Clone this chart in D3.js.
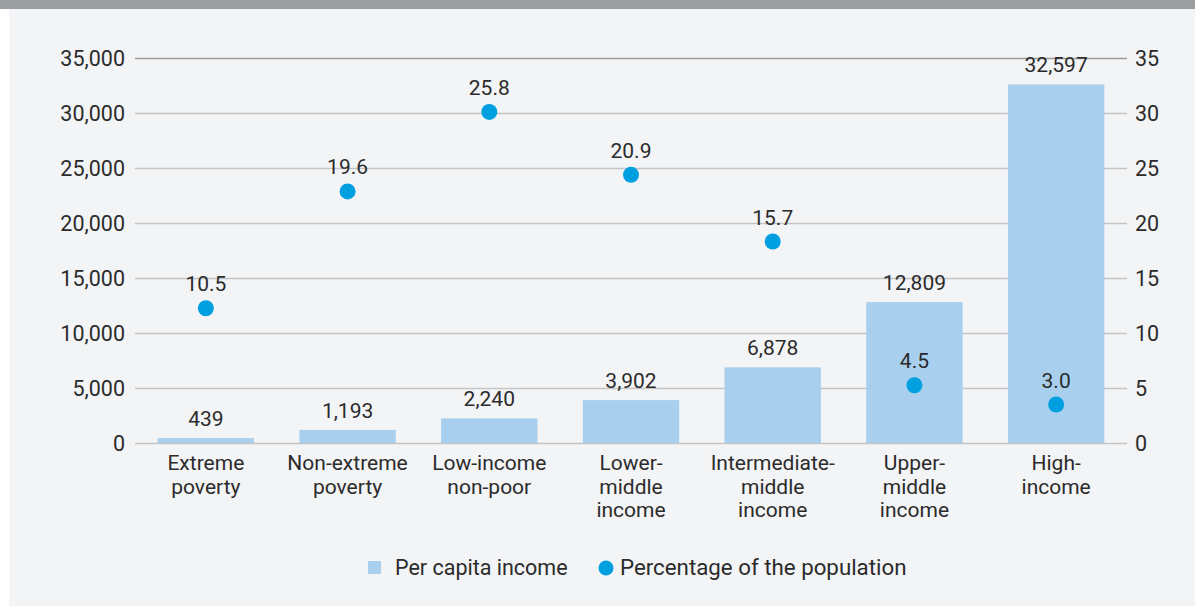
<!DOCTYPE html>
<html lang="en">
<head>
    <meta charset="UTF-8">
    <title>Per capita income by income stratum</title>
    <script src="https://cdn.jsdelivr.net/npm/d3@7"></script>
    <style>
        body { margin: 0; background: #ffffff; }
        text { font-family: Roboto, "Noto Sans", sans-serif; fill: #2b2b2b; }
    </style>
</head>
<body>
    <div id="vis"></div>

    <script>

        var categories = [
            ["Extreme", "poverty"],
            ["Non-extreme", "poverty"],
            ["Low-income", "non-poor"],
            ["Lower-", "middle", "income"],
            ["Intermediate-", "middle", "income"],
            ["Upper-", "middle", "income"],
            ["High-", "income"]
        ];
        var income = [439, 1193, 2240, 3902, 6878, 12809, 32597];
        var population = [10.5, 19.6, 25.8, 20.9, 15.7, 4.5, 3.0];

        var leftTicks = [0, 5000, 10000, 15000, 20000, 25000, 30000, 35000];
        var rightTicks = [0, 5, 10, 15, 20, 25, 30, 35];
        var legendLabels = ["Per capita income", "Percentage of the population"];

        var width = 1195;
        var height = 606;

        var margin = { top: 58, left: 135, right: 68, bottom: 163 };

        var svg = d3.select("#vis")
            .append("svg")
              .attr("width", width)
              .attr("height", height);

        // panel background + top band
        svg.append("rect")
            .attr("x", 9).attr("y", 0)
            .attr("width", width - 9).attr("height", height)
            .attr("fill", "#f3f4f6");
        svg.append("rect")
            .attr("x", 0).attr("y", 0)
            .attr("width", width).attr("height", 9)
            .attr("fill", "#9d9ea2");

        var plotW = width - margin.left - margin.right;
        var plotH = height - margin.top - margin.bottom;

        var g = svg.append("g")
            .attr("transform", "translate(" + margin.left + "," + margin.top + ")");

        var x_scale = d3.scaleBand()
            .domain(d3.range(categories.length))
            .range([0, plotW])
            .paddingInner(0.32)
            .paddingOuter(0.16);

        var y_scale = d3.scaleLinear()
            .domain([0, 35000])
            .range([plotH, 0]);

        var y_right = d3.scaleLinear()
            .domain([0, 35])
            .range([plotH, 0]);

        // the dots in the original are placed against a 0-30 range
        var y_dot = d3.scaleLinear()
            .domain([0, 30])
            .range([plotH, 0]);

        // gridlines
        g.selectAll(".grid")
            .data(leftTicks)
            .enter()
            .append("line")
              .attr("class", "grid")
              .attr("x1", 0)
              .attr("x2", plotW)
              .attr("y1", function(d){ return y_scale(d) + 0.5 })
              .attr("y2", function(d){ return y_scale(d) + 0.5 })
              .attr("stroke", function(d){ return d == 35000 ? "#9a9a9a" : "#c4c4c4" })
              .attr("stroke-width", 1.5);

        // left axis
        var y_axis = d3.axisLeft(y_scale)
            .tickValues(leftTicks)
            .tickSize(0)
            .tickPadding(10)
            .tickFormat(d3.format(","));
        var gl = g.append("g").attr("class", "y axis").call(y_axis);
        gl.select(".domain").remove();
        gl.selectAll("text").style("font-size", "21.5px").attr("fill", "#2b2b2b").attr("dy", "0.35em");

        // right axis
        var y_axis_r = d3.axisRight(y_right)
            .tickValues(rightTicks)
            .tickSize(0)
            .tickPadding(8);
        var gr = g.append("g")
            .attr("class", "y axis")
            .attr("transform", "translate(" + plotW + ",0)")
            .call(y_axis_r);
        gr.select(".domain").remove();
        gr.selectAll("text").style("font-size", "21.5px").attr("fill", "#2b2b2b").attr("dy", "0.35em");

        // bars
        g.selectAll(".bar")
            .data(income)
            .enter()
            .append("rect")
              .attr("class", "bar")
              .attr("x", function(d, i){ return x_scale(i) })
              .attr("width", x_scale.bandwidth())
              .attr("y", function(d){ return y_scale(d) })
              .attr("height", function(d){ return plotH - y_scale(d) })
              .attr("fill", "#a8d0ee");

        g.selectAll(".barlabel")
            .data(income)
            .enter()
            .append("text")
              .attr("class", "barlabel")
              .attr("x", function(d, i){ return x_scale(i) + x_scale.bandwidth() / 2 })
              .attr("y", function(d){ return y_scale(d) - 12 })
              .attr("text-anchor", "middle")
              .style("font-size", "21px")
              .text(function(d){ return d3.format(",")(d) });

        // dots
        g.selectAll(".dot")
            .data(population)
            .enter()
            .append("circle")
              .attr("class", "dot")
              .attr("cx", function(d, i){ return x_scale(i) + x_scale.bandwidth() / 2 })
              .attr("cy", function(d){ return y_dot(d) })
              .attr("r", 8)
              .attr("fill", "#009fdf");

        g.selectAll(".dotlabel")
            .data(population)
            .enter()
            .append("text")
              .attr("class", "dotlabel")
              .attr("x", function(d, i){ return x_scale(i) + x_scale.bandwidth() / 2 })
              .attr("y", function(d){ return y_dot(d) - 17 })
              .attr("text-anchor", "middle")
              .style("font-size", "21px")
              .text(function(d){ return d3.format(".1f")(d) });

        // category labels
        var cats = g.selectAll(".cat")
            .data(categories)
            .enter()
            .append("text")
              .attr("class", "cat")
              .attr("text-anchor", "middle")
              .attr("transform", function(d, i){
                  return "translate(" + (x_scale(i) + x_scale.bandwidth() / 2) + "," + (plotH + 27) + ")";
              })
              .style("font-size", "21px");

        cats.selectAll("tspan")
            .data(function(d){ return d })
            .enter()
            .append("tspan")
              .attr("x", 0)
              .attr("y", function(d, i){ return i * 23.5 })
              .text(function(d){ return d });

        // legend
        var legend = svg.append("g").attr("transform", "translate(368,568)");
        legend.append("rect")
            .attr("x", 0).attr("y", -7)
            .attr("width", 13).attr("height", 13)
            .attr("fill", "#a8d0ee");
        legend.append("text")
            .attr("x", 27).attr("y", 7)
            .style("font-size", "21.5px")
            .text(legendLabels[0]);
        legend.append("circle")
            .attr("cx", 238).attr("cy", 0)
            .attr("r", 7.5)
            .attr("fill", "#009fdf");
        legend.append("text")
            .attr("x", 252).attr("y", 7)
            .style("font-size", "22.3px")
            .text(legendLabels[1]);

    </script>
</body>
</html>
